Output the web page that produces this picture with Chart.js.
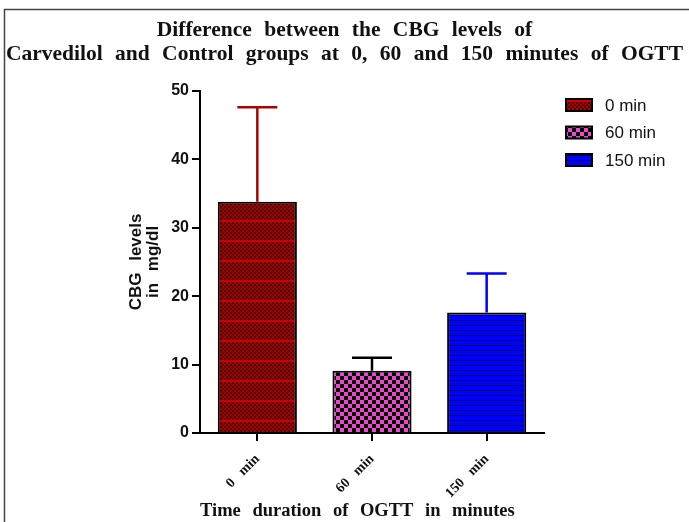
<!DOCTYPE html>
<html>
<head>
<meta charset="utf-8">
<script src="https://cdn.jsdelivr.net/npm/chart.js@4"></script>
<style>
  html, body { margin: 0; padding: 0; background: #fff; }
  #wrap { width: 689px; height: 522px; }
</style>
</head>
<body>
<div id="wrap"><canvas id="myChart" width="689" height="522"></canvas></div>
<script>
// data
const categories = ["0 min", "60 min", "150 min"];
const meanValues = [33.8, 9.1, 17.6];
const errValues = [13.8, 1.9, 5.7];
const errColors = ["#b00000", "#000000", "#0000ff"];
const yMin = 0, yMax = 50, yStep = 10;

function makePattern(w, h, draw) {
  const c = document.createElement("canvas");
  c.width = w; c.height = h;
  const g = c.getContext("2d");
  draw(g);
  return document.getElementById("myChart").getContext("2d").createPattern(c, "repeat");
}

// maroon checks with red stripes
const redFill = makePattern(4, 20, (g) => {
  g.fillStyle = "#4a0a0a";
  g.fillRect(0, 0, 4, 20);
  g.fillStyle = "#a80000";
  for (let y = 0; y < 20; y += 2) {
    for (let x = 0; x < 4; x += 2) {
      if (((x + y) / 2) % 2 === 0) g.fillRect(x, y, 2, 2);
    }
  }
  g.fillStyle = "#cc0000";
  g.fillRect(0, 0, 4, 2);
});

// pink / black checkerboard
const pinkFill = makePattern(8, 8, (g) => {
  g.fillStyle = "#ef45cf";
  g.fillRect(0, 0, 8, 8);
  g.fillStyle = "#000";
  g.fillRect(4, 0, 4, 4);
  g.fillRect(0, 4, 4, 4);
});

// blue with thin dark lines
const blueFill = makePattern(2, 5, (g) => {
  g.fillStyle = "#0000ff";
  g.fillRect(0, 0, 2, 5);
  g.fillStyle = "#000070";
  g.fillRect(0, 0, 2, 1);
});

const fills = [redFill, pinkFill, blueFill];

const frame = {
  id: "frame",
  beforeDraw(chart) {
    const { ctx } = chart;
    ctx.save();
    ctx.fillStyle = "#fff";
    ctx.fillRect(0, 0, chart.width, chart.height);
    ctx.strokeStyle = "#444";
    ctx.lineWidth = 1.5;
    ctx.beginPath();
    ctx.moveTo(689, 9.5);
    ctx.lineTo(4.5, 9.5);
    ctx.lineTo(4.5, 522);
    ctx.stroke();
    ctx.restore();
    ctx.wordSpacing = "7px";
  },
  afterDraw(chart) {
    chart.ctx.wordSpacing = "0px";
  }
};

const errorBars = {
  id: "errorBars",
  afterDatasetsDraw(chart) {
    const { ctx } = chart;
    const y = chart.scales.y;
    ctx.save();
    chart.data.datasets.forEach((ds, i) => {
      const bar = chart.getDatasetMeta(i).data[i];
      if (!bar) return;
      const top = y.getPixelForValue(meanValues[i] + errValues[i]);
      ctx.strokeStyle = errColors[i];
      ctx.lineWidth = 2.5;
      ctx.beginPath();
      ctx.moveTo(bar.x, bar.y);
      ctx.lineTo(bar.x, top);
      ctx.moveTo(bar.x - 20, top);
      ctx.lineTo(bar.x + 20, top);
      ctx.stroke();
    });
    ctx.restore();
  }
};

const sideLegend = {
  id: "sideLegend",
  afterDraw(chart) {
    const { ctx } = chart;
    ctx.save();
    ctx.wordSpacing = "0px";
    chart.data.datasets.forEach((ds, i) => {
      const cy = 105 + i * 27.5;
      ctx.fillStyle = ds.backgroundColor;
      ctx.fillRect(566, cy - 6, 26, 12);
      ctx.strokeStyle = "#000";
      ctx.lineWidth = 2;
      ctx.strokeRect(566, cy - 6, 26, 12);
      ctx.fillStyle = "#111";
      ctx.font = "17px 'Liberation Sans', Arial, sans-serif";
      ctx.textBaseline = "middle";
      ctx.textAlign = "left";
      ctx.fillText(ds.label, 605, cy + 1);
    });
    ctx.restore();
  }
};

const datasets = categories.map((cat, i) => ({
  label: cat,
  data: categories.map((_, j) => (j === i ? meanValues[i] : null)),
  backgroundColor: fills[i],
  borderColor: "#000",
  borderWidth: 2,
  categoryPercentage: 1,
  barPercentage: 0.69,
  grouped: false
}));

const ctx = document.getElementById("myChart");

const myChart = new Chart(ctx, {
  type: "bar",
  plugins: [frame, errorBars, sideLegend],
  data: {
    labels: categories,
    datasets: datasets
  },
  options: {
    responsive: false,
    animation: false,
    layout: {
      padding: 0
    },
    plugins: {
      legend: { display: false },
      tooltip: { enabled: false },
      title: {
        display: true,
        text: ["Difference between the CBG levels of", "Carvedilol and Control groups at 0, 60 and 150 minutes of OGTT"],
        color: "#111",
        font: { family: "'Liberation Serif', 'Times New Roman', serif", size: 21.5, weight: "bold", lineHeight: 1.16 },
        padding: { top: 17.5, bottom: 23.5 }
      }
    },
    scales: {
      x: {
        afterFit: (s) => { s.height = 89; },
        border: { display: true, color: "#000", width: 2 },
        grid: { display: true, offset: false, drawOnChartArea: false, drawTicks: true, tickLength: 8, color: "#000", lineWidth: 2 },
        ticks: {
          color: "#111",
          minRotation: 45,
          maxRotation: 45,
          padding: 10,
          font: { family: "'Liberation Serif', 'Times New Roman', serif", size: 14, weight: "bold" }
        },
        title: {
          display: true,
          text: "Time duration of OGTT in minutes",
          align: "start",
          color: "#111",
          font: { family: "'Liberation Serif', 'Times New Roman', serif", size: 18.5, weight: "bold", lineHeight: 1.2 },
          padding: { top: 0, bottom: 0 }
        }
      },
      y: {
        min: yMin,
        max: yMax,
        afterFit: (s) => { s.width = 200; },
        border: { display: true, color: "#000", width: 2 },
        grid: { display: true, drawOnChartArea: false, drawTicks: true, tickLength: 8, color: "#000", lineWidth: 2 },
        ticks: {
          stepSize: yStep,
          color: "#111",
          padding: 3,
          font: { family: "'Liberation Sans', Arial, sans-serif", size: 16, weight: "bold" }
        },
        title: {
          display: true,
          text: ["CBG levels", "in mg/dl"],
          color: "#111",
          font: { family: "'Liberation Sans', Arial, sans-serif", size: 17, weight: "bold", lineHeight: 1.0 },
          padding: { top: 127.5, bottom: 0 }
        }
      },
      // empty right-hand gap that holds the legend
      side: {
        type: "linear",
        position: "right",
        display: true,
        afterFit: (s) => { s.width = 145; },
        border: { display: false },
        grid: { display: false },
        ticks: { display: false }
      }
    }
  }
});
</script>
</body>
</html>
